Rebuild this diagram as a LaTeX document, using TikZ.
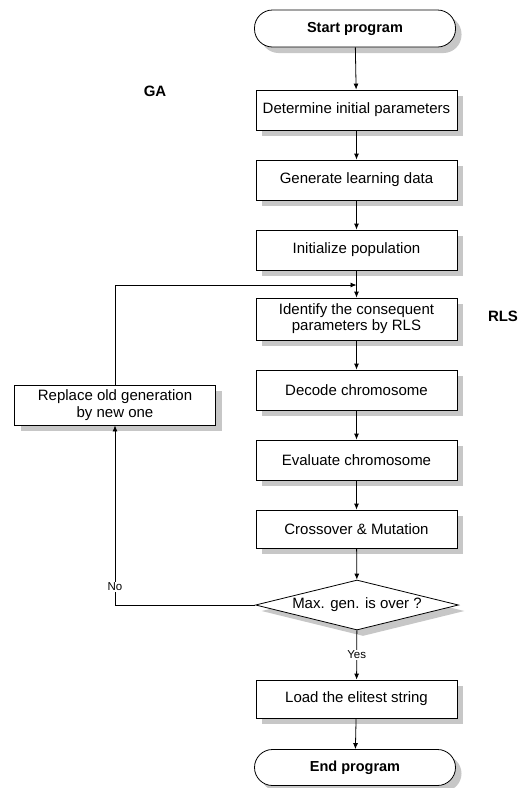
\documentclass[tikz,border=0pt]{standalone}
\usepackage{fontspec}
\setmainfont{Liberation Sans}
\usetikzlibrary{shapes.geometric,shadows,arrows.meta}
\begin{document}
\begin{tikzpicture}[x=1pt,y=-1pt,
  every node/.style={font=\fontsize{15}{16}\selectfont},
  shad/.style={drop shadow={shadow xshift=6pt,shadow yshift=-6pt,fill=black!22,opacity=1}},
  stepbox/.style={draw,line width=0.8pt,fill=white,shad,minimum width=201pt,minimum height=40pt,inner sep=0pt,align=center},
  term/.style={draw,line width=0.8pt,fill=white,shad,rounded corners=18pt,minimum width=201pt,minimum height=37pt,inner sep=0pt,font=\fontsize{14.5}{16}\selectfont\bfseries},
  decision/.style={draw,line width=0.8pt,fill=white,shad,diamond,aspect=4,minimum width=203pt,minimum height=50pt,inner sep=0pt},
  arr/.style={draw,line width=0.8pt,-{Latex[length=6pt,width=5pt]}},
  lab/.style={font=\fontsize{15}{16}\selectfont\bfseries},
  small/.style={font=\fontsize{11.5}{13}\selectfont,fill=white,inner sep=1pt}]
\useasboundingbox (0,0) rectangle (522,788);
\node[term] (start) at (355,28.5) {Start program};
\node[stepbox] (det) at (356.5,110) {Determine initial parameters};
\node[stepbox] (gen) at (356.5,180) {Generate learning data};
\node[stepbox] (init) at (356.5,250) {Initialize population};
\node[stepbox,minimum height=42pt] (ident) at (356.5,319) {Identify the consequent\\parameters by RLS};
\node[stepbox] (dec) at (356.5,390) {Decode chromosome};
\node[stepbox] (eval) at (356.5,460) {Evaluate chromosome};
\node[stepbox,minimum height=38pt] (cross) at (356.5,529) {Crossover \& Mutation};
\node[decision] (dia) at (357,605) {Max. gen. is over ?};
\node[stepbox,minimum height=38pt] (load) at (356.5,699) {Load the elitest string};
\node[term,minimum height=36pt] (end) at (355,767.5) {End program};
\node[stepbox,font=\fontsize{15}{17}\selectfont] (rep) at (115,405) {Replace old generation\\by new one};
\node[lab] (ga) at (155,91) {GA};
\node[lab] (rls) at (503,316) {RLS};
\coordinate (j) at (356.5,285);
\draw[arr] (start) -- (det);
\draw[arr] (det) -- (gen);
\draw[arr] (gen) -- (init);
\draw[arr] (init) -- (ident);
\draw[arr] (ident) -- (dec);
\draw[arr] (dec) -- (eval);
\draw[arr] (eval) -- (cross);
\draw[arr] (cross) -- (dia);
\draw[arr] (dia) -- node[small] {Yes} (load);
\draw[arr] (load) -- (end);
\draw[arr] (dia.west) -| node[small,pos=0.55] {No} (rep.south);
\draw[arr] (rep.north) |- (j);
\end{tikzpicture}
\end{document}
